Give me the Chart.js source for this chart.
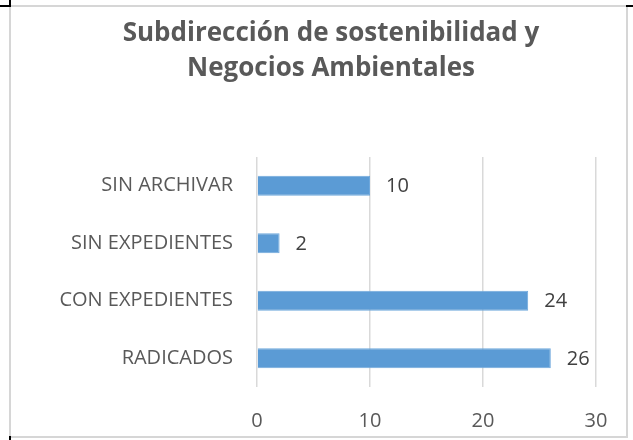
<!DOCTYPE html>
<html>
<head>
<meta charset="utf-8">
<script src="https://cdn.jsdelivr.net/npm/chart.js@4/dist/chart.umd.min.js"></script>
<style>
    body { margin: 0; background: #fff; }
    #wrap { position: relative; width: 633px; height: 440px; }
    #frame { position: absolute; left: 9px; top: 5px; width: 615px; height: 429px; border: 2px solid #d6d6d6; }
    .mark { position: absolute; background: #000; }
</style>
</head>
<body>
<div id="wrap">
    <canvas id="myChart" width="633" height="440"></canvas>
    <div id="frame"></div>
    <div class="mark" style="left:9px;top:0;width:2px;height:7px"></div>
    <div class="mark" style="left:0;top:5px;width:11px;height:2px"></div>
    <div class="mark" style="left:626px;top:5px;width:7px;height:2px"></div>
    <div class="mark" style="left:9px;top:436px;width:2px;height:4px"></div>
</div>
<script>
const titleLines = ["Subdirección de sostenibilidad y", "Negocios Ambientales"];
const categories = ["SIN ARCHIVAR", "SIN EXPEDIENTES", "CON EXPEDIENTES", "RADICADOS"];
const values = [10, 2, 24, 26];
const xTicks = [0, 10, 20, 30];

const textColor = "#595959";

// title drawn by hand so it can be centred on the frame, not on the plot
const chartTitle = {
    id: "chartTitle",
    afterDraw(chart) {
        const ctx = chart.ctx;
        ctx.save();
        ctx.font = "bold 26px 'Open Sans'";
        ctx.fillStyle = textColor;
        ctx.textAlign = "center";
        ctx.textBaseline = "middle";
        for (let i = 0; i < titleLines.length; i++) {
            ctx.fillText(titleLines[i], 331, 34 + i * 35);
        }
        ctx.restore();
    }
};

// draws the value just right of each bar end
const valueLabels = {
    id: "valueLabels",
    afterDatasetsDraw(chart) {
        const ctx = chart.ctx;
        const meta = chart.getDatasetMeta(0);
        ctx.save();
        ctx.font = "20px 'Open Sans'";
        ctx.fillStyle = "#404040";
        ctx.textAlign = "left";
        ctx.textBaseline = "middle";
        meta.data.forEach(function (bar, i) {
            ctx.fillText(values[i], bar.x + 16, bar.y + 1);
        });
        ctx.restore();
    }
};

const graph = new Chart("myChart", {
    type: "bar",
    data: {
        labels: categories,
        datasets: [{
            data: values,
            backgroundColor: "#5b9bd5",
            borderColor: "#6fa8dc",
            borderWidth: 1,
            categoryPercentage: 1.0,
            barPercentage: 0.35
        }]
    },
    options: {
        indexAxis: "y",
        responsive: false,
        animation: false,
        layout: {
            padding: {left: 0, right: 37, top: 157, bottom: 0}
        },
        scales: {
            x: {
                min: 0,
                max: 30,
                afterBuildTicks: function (scale) {
                    scale.ticks = xTicks.map(v => ({value: v}));
                },
                afterFit: function (scale) {
                    scale.height = 53;
                },
                grid: {
                    color: "#d9d9d9",
                    lineWidth: 1.5,
                    drawTicks: false
                },
                border: {display: false},
                ticks: {
                    color: textColor,
                    padding: 22,
                    font: {family: "'Open Sans'", size: 20}
                }
            },
            y: {
                afterFit: function (scale) {
                    scale.width = 257;
                },
                grid: {display: false, drawTicks: false},
                border: {display: false},
                ticks: {
                    color: textColor,
                    padding: 24,
                    font: {family: "'Open Sans'", size: 20}
                }
            }
        },
        plugins: {
            legend: {display: false},
            tooltip: {enabled: false},
            title: {display: false}
        }
    },
    plugins: [chartTitle, valueLabels]
});
</script>
</body>
</html>
